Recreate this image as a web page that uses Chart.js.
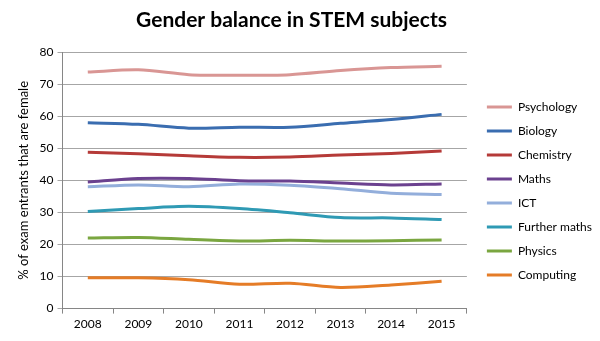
<!DOCTYPE html>
<html>
<head>
<meta charset="utf-8">
<script src="https://cdn.jsdelivr.net/npm/chart.js@4"></script>
<style>
  html, body { margin: 0; padding: 0; background: #fff; }
  #wrap { width: 600px; height: 341px; }
</style>
</head>
<body>
<div id="wrap"><canvas id="myChart" width="600" height="341"></canvas></div>
<script>
// categories
const years = ['2008', '2009', '2010', '2011', '2012', '2013', '2014', '2015'];

// % of exam entrants that are female, per subject
const psychology   = [73.8, 74.5, 73.0, 72.8, 73.0, 74.3, 75.2, 75.6];
const biology      = [58.0, 57.5, 56.3, 56.6, 56.6, 57.8, 59.0, 60.6];
const chemistry    = [48.8, 48.3, 47.7, 47.2, 47.3, 47.9, 48.4, 49.2];
const maths        = [39.5, 40.6, 40.6, 39.9, 39.8, 39.2, 38.6, 38.9];
const ict          = [38.0, 38.6, 38.0, 38.9, 38.5, 37.4, 36.0, 35.6];
const furtherMaths = [30.3, 31.2, 31.9, 31.2, 29.9, 28.4, 28.3, 27.8];
const physics      = [22.0, 22.2, 21.6, 21.1, 21.3, 21.1, 21.2, 21.4];
const computing    = [9.6, 9.6, 9.0, 7.6, 7.9, 6.6, 7.4, 8.5];

const yTicks = [0, 10, 20, 30, 40, 50, 60, 70, 80];

function series(label, data, colour) {
  return {
    label: label,
    data: data,
    borderColor: colour,
    backgroundColor: colour,
    borderWidth: 3,
    pointRadius: 0,
    tension: 0.3,
    fill: false
  };
}

const chart_data = {
  labels: years,
  datasets: [
    series('Psychology', psychology, '#d99694'),
    series('Biology', biology, '#3a6db0'),
    series('Chemistry', chemistry, '#b53a38'),
    series('Maths', maths, '#6b418f'),
    series('ICT', ict, '#93aedb'),
    series('Further maths', furtherMaths, '#2f9ab4'),
    series('Physics', physics, '#7aa640'),
    series('Computing', computing, '#e57c27')
  ]
};

Chart.defaults.font.family = 'Lato, "Open Sans", sans-serif';
Chart.defaults.color = '#000';

const ctx = document.getElementById('myChart').getContext('2d');
const myChart = new Chart(ctx, {
  type: 'line',
  data: chart_data,
  options: {
    responsive: false,
    animation: false,
    // negative side padding keeps the title centred where the original has it
    layout: { padding: { left: -19, right: -2, top: 0, bottom: 7 } },
    plugins: {
      title: {
        display: true,
        text: 'Gender balance in STEM subjects',
        font: { size: 21, weight: 'bold' },
        color: '#000',
        padding: { top: 8, bottom: 19 }
      },
      legend: {
        position: 'right',
        maxWidth: 200,
        title: {
          display: true,
          text: '',
          font: { size: 10 },
          padding: { top: 36, bottom: 0 }
        },
        labels: {
          boxWidth: 25,
          boxHeight: 3,
          padding: 12,
          font: { size: 12 },
          color: '#000',
          generateLabels: function (chart) {
            const items = Chart.defaults.plugins.legend.labels.generateLabels(chart);
            items.forEach(it => { it.lineWidth = 0; });
            return items;
          }
        }
      },
      tooltip: { enabled: false }
    },
    scales: {
      x: {
        offset: true,
        grid: {
          offset: true,
          drawOnChartArea: false,
          color: '#868686',
          tickLength: 5
        },
        border: { color: '#868686' },
        ticks: { font: { size: 12 }, color: '#000', padding: 3 }
      },
      y: {
        min: 0,
        max: 80,
        afterBuildTicks: function (axis) {
          axis.ticks = yTicks.map(v => ({ value: v }));
        },
        grid: { color: '#a6a6a6', tickLength: 5 },
        border: { color: '#868686' },
        ticks: { font: { size: 12 }, color: '#000', padding: 4 },
        title: {
          display: true,
          text: '% of exam entrants that are female',
          font: { size: 13 },
          color: '#000',
          padding: { top: 35, bottom: 4 }
        }
      },
      // empty spacer between plot and legend
      gap: {
        type: 'linear',
        position: 'right',
        grid: { drawOnChartArea: false, drawTicks: false },
        border: { display: false },
        ticks: { display: false },
        afterFit: function (s) { s.width = 8; }
      }
    }
  }
});
</script>
</body>
</html>
